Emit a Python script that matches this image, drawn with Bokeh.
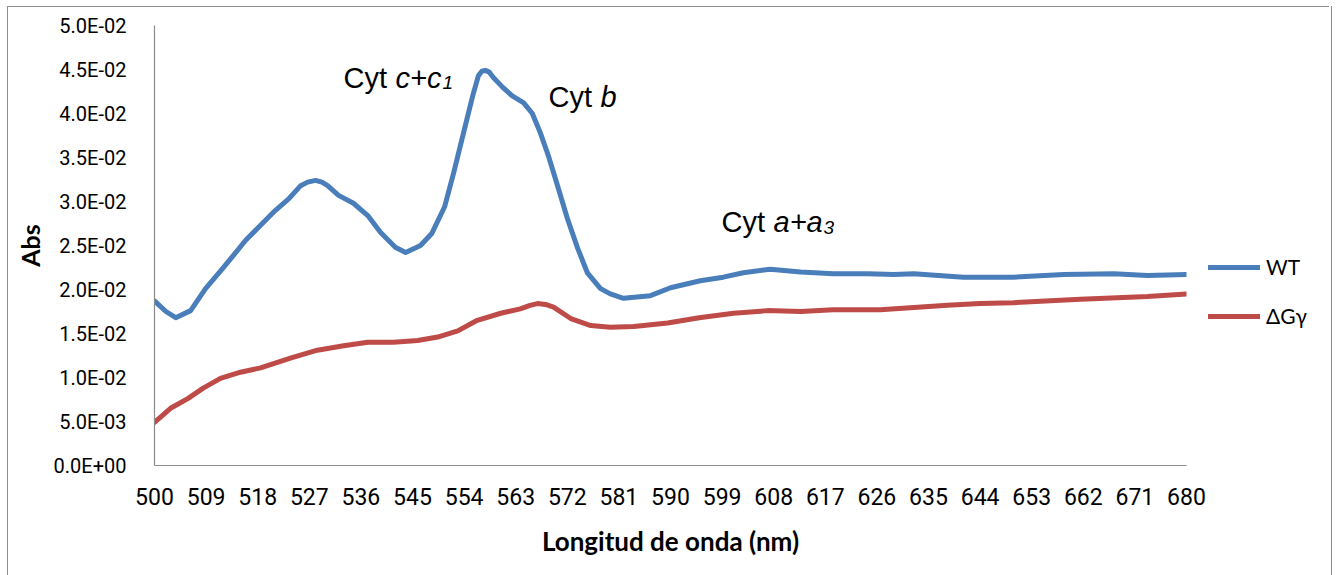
from bokeh.plotting import figure
from bokeh.layouts import row
from bokeh.models import (FixedTicker, CustomJSTickFormatter, Legend, LegendItem,
                          Label, Range1d)
from bokeh.embed import file_html
from bokeh.resources import INLINE

# ---- data ----
wt_nm = [500, 502, 503.7, 506.3, 508.9, 511.9, 513.3, 515.9, 518.5, 521.1, 523.4, 525.5,
         526.7, 528.1, 529.2, 530.2, 532.1, 534.7, 537.2, 539.4, 542.0, 543.8, 546.4, 548.4,
         550.6, 552.2, 553.9, 555.5, 556.5, 557.1, 557.7, 558.4, 559.1, 560.7, 562.4, 564.4,
         565.9, 567.3, 568.7, 570.3, 572.0, 573.8, 575.5, 577.8, 579.5, 581.8, 586.5, 590.0,
         595.2, 599.2, 602.7, 607.4, 612.7, 618.4, 624.4, 628.9, 632.4, 641.1, 649.8, 658.6,
         667.3, 673.2, 680]
wt_abs = [0.0187, 0.0175, 0.0168, 0.0176, 0.0201, 0.0224, 0.0235, 0.0256, 0.0273, 0.0290,
          0.0303, 0.0318, 0.0322, 0.0324, 0.0322, 0.0318, 0.0307, 0.0298, 0.0284, 0.0265,
          0.0248, 0.0242, 0.0250, 0.0264, 0.0294, 0.0333, 0.0378, 0.0420, 0.0443, 0.0448,
          0.0449, 0.0447, 0.0441, 0.0430, 0.0420, 0.0412, 0.0400, 0.0378, 0.0352, 0.0318,
          0.0281, 0.0247, 0.0219, 0.0201, 0.0195, 0.0190, 0.0193, 0.0202, 0.0210, 0.0214,
          0.0219, 0.0223, 0.0220, 0.0218, 0.0218, 0.0217, 0.0218, 0.0214, 0.0214, 0.0217,
          0.0218, 0.0216, 0.0217]

dg_nm = [500, 502.8, 505.8, 508.5, 511.5, 515.0, 518.5, 523.7, 528.4, 533.0, 537.2, 541.7,
         545.9, 549.4, 552.9, 556.3, 560.4, 563.8, 565.5, 566.8, 568.2, 569.6, 572.6, 576.1,
         579.5, 583.6, 589.5, 595.0, 601.0, 606.9, 612.7, 618.4, 626.6, 638.3, 644.0, 649.8,
         661.5, 673.2, 680]
dg_abs = [0.0049, 0.0065, 0.0076, 0.0088, 0.0099, 0.0106, 0.0111, 0.0122, 0.0131, 0.0136,
          0.0140, 0.0140, 0.0142, 0.0146, 0.0153, 0.0165, 0.0173, 0.0178, 0.0182, 0.0184,
          0.0183, 0.0180, 0.0167, 0.0159, 0.0157, 0.0158, 0.0162, 0.0168, 0.0173, 0.0176,
          0.0175, 0.0177, 0.0177, 0.0182, 0.0184, 0.0185, 0.0189, 0.0192, 0.0195]

x_ticks = list(range(500, 681, 9))
y_ticks = [0.0, 0.005, 0.010, 0.015, 0.020, 0.025, 0.030, 0.035, 0.040, 0.045, 0.050]

series_names = ["WT", "\u0394G\u03b3"]
series_colors = ["#4A7EBB", "#BE4B48"]

GRAY = "#8c8c8c"
W1, W2, H = 1207, 129, 575


def bar(x, y, w, h):
    return f"linear-gradient({GRAY},{GRAY}) {x}px {y}px / {w}px {h}px no-repeat"


# ---- main figure ----
p = figure(width=W1, height=H, output_backend="svg", toolbar_location=None,
           x_range=Range1d(500, 680), y_range=Range1d(0, 0.05),
           min_border_left=154, min_border_right=W1 - 1186, min_border_top=25,
           min_border_bottom=110)
p.styles = {"background": bar(7, 6, 1, H) + ", " + bar(7, 6, W1, 1) + ", white"}
p.outline_line_color = None
p.xgrid.visible = False
p.ygrid.visible = False
p.background_fill_color = "white"
p.border_fill_alpha = 0

p.xaxis.ticker = FixedTicker(ticks=x_ticks)
p.yaxis.ticker = FixedTicker(ticks=y_ticks)
p.yaxis.formatter = CustomJSTickFormatter(code="""
const s = tick.toExponential(1);
const parts = s.split('e');
let e = parts[1];
const sign = e[0];
e = e.slice(1);
if (e.length < 2) { e = '0' + e; }
return parts[0] + 'E' + sign + e;
""")

for ax in (p.xaxis[0], p.yaxis[0]):
    ax.axis_line_color = GRAY
    ax.axis_line_width = 1.2
    ax.major_tick_line_color = None
    ax.minor_tick_line_color = None
    ax.major_label_text_font = "Roboto"
    ax.major_label_text_color = "black"
    ax.axis_label_text_font = "Lato"
    ax.axis_label_text_font_style = "bold"
    ax.axis_label_text_color = "black"

p.yaxis.major_label_text_font_size = "20px"
p.xaxis.major_label_text_font_size = "23px"
p.yaxis.major_label_standoff = 22
p.xaxis.major_label_standoff = 16
p.xaxis.axis_label = "Longitud de onda (nm)"
p.yaxis.axis_label = "Abs"
p.xaxis.axis_label_text_font_size = "26px"
p.yaxis.axis_label_text_font_size = "25px"
p.xaxis.axis_label_standoff = 17
p.yaxis.axis_label_standoff = 6

r1 = p.line(wt_nm, wt_abs, line_width=5, color=series_colors[0], line_join="round",
            line_cap="round")
r2 = p.line(dg_nm, dg_abs, line_width=5, color=series_colors[1], line_join="round",
            line_cap="round")


def nm_at(px):
    return 500 + (px - 154) * 180 / 1032


def abs_at(py):
    return (465 - py) * 0.05 / 440


def txt(t, px, py, size="29px", style="normal"):
    p.add_layout(Label(x=nm_at(px), y=abs_at(py), text=t, text_font="Liberation Sans",
                       text_font_size=size, text_font_style=style, text_color="black",
                       text_baseline="alphabetic", text_align="left"))


txt("Cyt", 343, 77)
txt("c+c", 395, 77, style="italic")
txt("1", 442, 82, size="19px", style="italic")
txt("Cyt", 548, 96)
txt("b", 600, 96, style="italic")
txt("Cyt", 721, 221)
txt("a+a", 773, 221, style="italic")
txt("3", 823, 227, size="19px", style="italic")

# ---- legend panel (a second figure to the right; its frame aligns with p's) ----
q = figure(width=W2, height=H, output_backend="svg", toolbar_location=None,
           x_range=Range1d(0, 1), y_range=Range1d(0, 1),
           min_border=0, x_axis_type=None, y_axis_type=None)
q.styles = {"background": bar(0, 6, 1336 - 7 - W1, 1) + ", "
            + bar(1331 - W1, 6, 1, H) + ", white"}
q.outline_line_color = None
q.xgrid.visible = False
q.ygrid.visible = False
q.background_fill_alpha = 0
q.border_fill_alpha = 0
# same series, drawn outside q's visible range; only their legend swatches show
q1 = q.line(wt_nm, wt_abs, line_width=5, color=series_colors[0], line_cap="round")
q2 = q.line(dg_nm, dg_abs, line_width=5, color=series_colors[1], line_cap="round")

legend = Legend(items=[LegendItem(label=series_names[0], renderers=[q1]),
                       LegendItem(label=series_names[1], renderers=[q2])],
                location=(1, 137), orientation="vertical",
                glyph_width=52, glyph_height=20, label_height=20, spacing=24,
                label_standoff=6, padding=0, margin=0,
                border_line_color=None, background_fill_alpha=0,
                label_text_font="Lato", label_text_font_size="21px",
                label_text_color="black")
q.add_layout(legend)

layout = row(p, q, spacing=0)
open("out.html", "w").write(file_html(layout, INLINE))
